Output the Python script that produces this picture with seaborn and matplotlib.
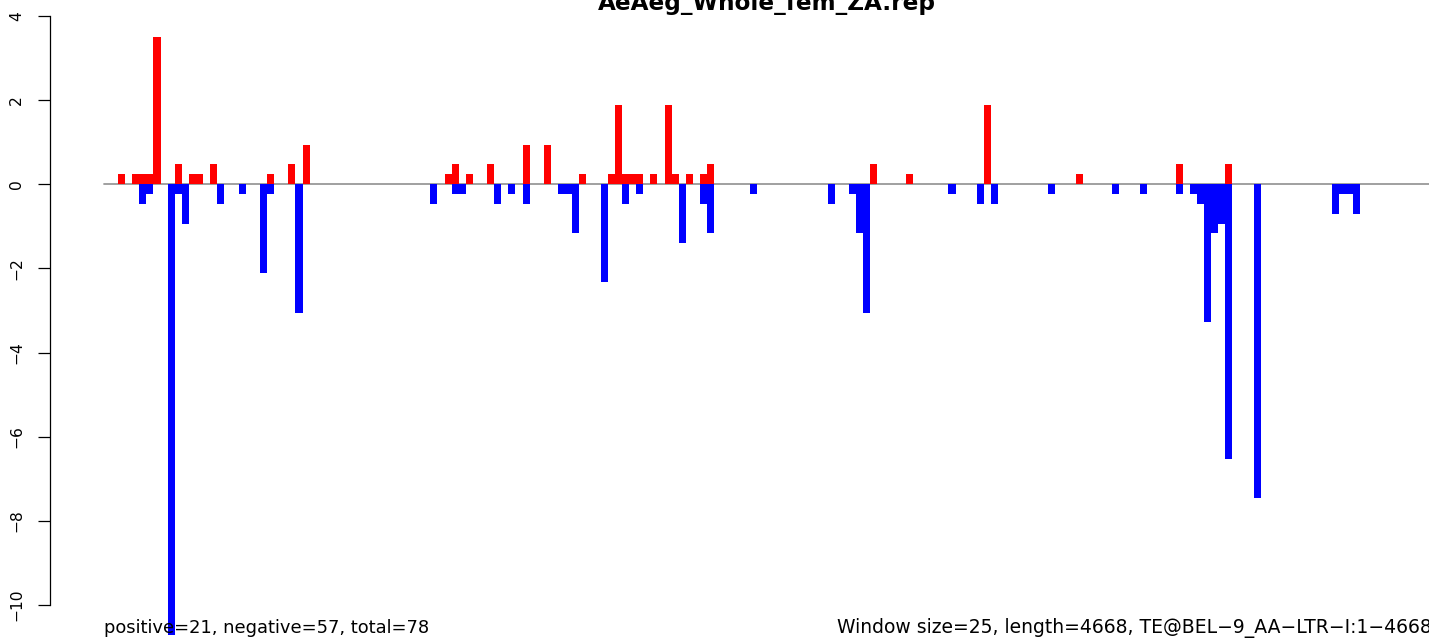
import matplotlib
matplotlib.use("Agg")
import matplotlib.pyplot as plt
import seaborn as sns
import pandas as pd

# window scores (index of 25bp window -> score)
n_windows = 187
pos_idx = [2, 4, 5, 6, 7, 10, 12, 13, 15, 23, 26, 28, 48, 49, 51, 54, 59, 62,
           67, 71, 72, 73, 74, 75, 77, 79, 80, 82, 84, 85, 108, 113, 124, 137,
           151, 158]
pos_val = [0.235, 0.235, 0.235, 0.235, 3.5, 0.47, 0.235, 0.235, 0.47, 0.235,
           0.47, 0.94, 0.235, 0.47, 0.235, 0.47, 0.94, 0.94, 0.235, 0.235, 1.88,
           0.235, 0.235, 0.235, 0.235, 1.88, 0.235, 0.235, 0.235, 0.47, 0.47,
           0.235, 1.88, 0.235, 0.47, 0.47]
neg_idx = [5, 6, 9, 10, 11, 16, 19, 22, 23, 27, 46, 49, 50, 55, 57, 59, 64, 65,
           66, 70, 73, 75, 81, 84, 85, 91, 102, 105, 106, 107, 119, 123, 125,
           133, 142, 146, 151, 153, 154, 155, 156, 157, 158, 162, 173, 174, 175,
           176]
neg_val = [-0.47, -0.235, -10.72, -0.235, -0.94, -0.47, -0.235, -2.12, -0.235,
           -3.05, -0.47, -0.235, -0.235, -0.47, -0.235, -0.47, -0.235, -0.235,
           -1.16, -2.33, -0.47, -0.235, -1.40, -0.47, -1.16, -0.235, -0.47,
           -0.235, -1.16, -3.05, -0.235, -0.47, -0.47, -0.235, -0.235, -0.235,
           -0.235, -0.235, -0.47, -3.28, -1.16, -0.94, -6.52, -7.45, -0.71,
           -0.235, -0.235, -0.71]

title = "AeAeg_Whole_fem_ZA.rep"
left_note = "positive=21, negative=57, total=78"
right_note = "Window size=25, length=4668, TE@BEL\u22129_AA\u2212LTR\u2212I:1\u22124668"

df = pd.concat([
    pd.DataFrame({"win": pos_idx, "score": pos_val, "sign": "pos"}),
    pd.DataFrame({"win": neg_idx, "score": neg_val, "sign": "neg"}),
])

sns.set_style("white")
plt.rcParams["font.family"] = ["DejaVu Sans"]
plt.rcParams["text.color"] = "black"
plt.rcParams["ytick.color"] = "black"

W, H = 1429, 641
fig = plt.figure(figsize=(W / 100, H / 100), dpi=100)
ax = fig.add_axes([50 / W, 0, (1484 - 50) / W, 1])

ax.plot([-0.5, n_windows - 0.5], [0, 0], color="#999999", lw=1.3, zorder=0)
sns.barplot(data=df, x="win", y="score", hue="sign", native_scale=True,
            palette={"pos": "#ff0000", "neg": "#0000ff"}, saturation=1,
            dodge=False, width=1, linewidth=0, legend=False, ax=ax,
            errorbar=None)

ax.set_xlim(-8.08, 193.95)
ax.set_ylim(-10.856, 4.380)
ax.set_xlabel("")
ax.set_ylabel("")
ax.set_xticks([])
for s in ["top", "right", "bottom"]:
    ax.spines[s].set_visible(False)
ax.spines["left"].set_bounds(-10, 4)
ax.spines["left"].set_linewidth(0.9)
ax.spines["left"].set_color("black")
ax.set_yticks(range(-10, 5, 2))
ax.tick_params(axis="y", left=True, length=8.6, width=0.9, color="black",
               labelcolor="black", pad=10, labelsize=11.2, labelrotation=90)
for lab in ax.get_yticklabels():
    lab.set_va("center")

fig.text(767 / W, 1 - 10 / H, title, ha="center", va="baseline",
         fontsize=16.7, fontweight="bold", color="black")
fig.text(103.8 / W, 1 - 633 / H, left_note, ha="left", va="baseline",
         fontsize=12.9, color="black")
fig.text(1431.5 / W, 1 - 633 / H, right_note, ha="right", va="baseline",
         fontsize=13.5, color="black")

fig.savefig("out.png", dpi=100)
